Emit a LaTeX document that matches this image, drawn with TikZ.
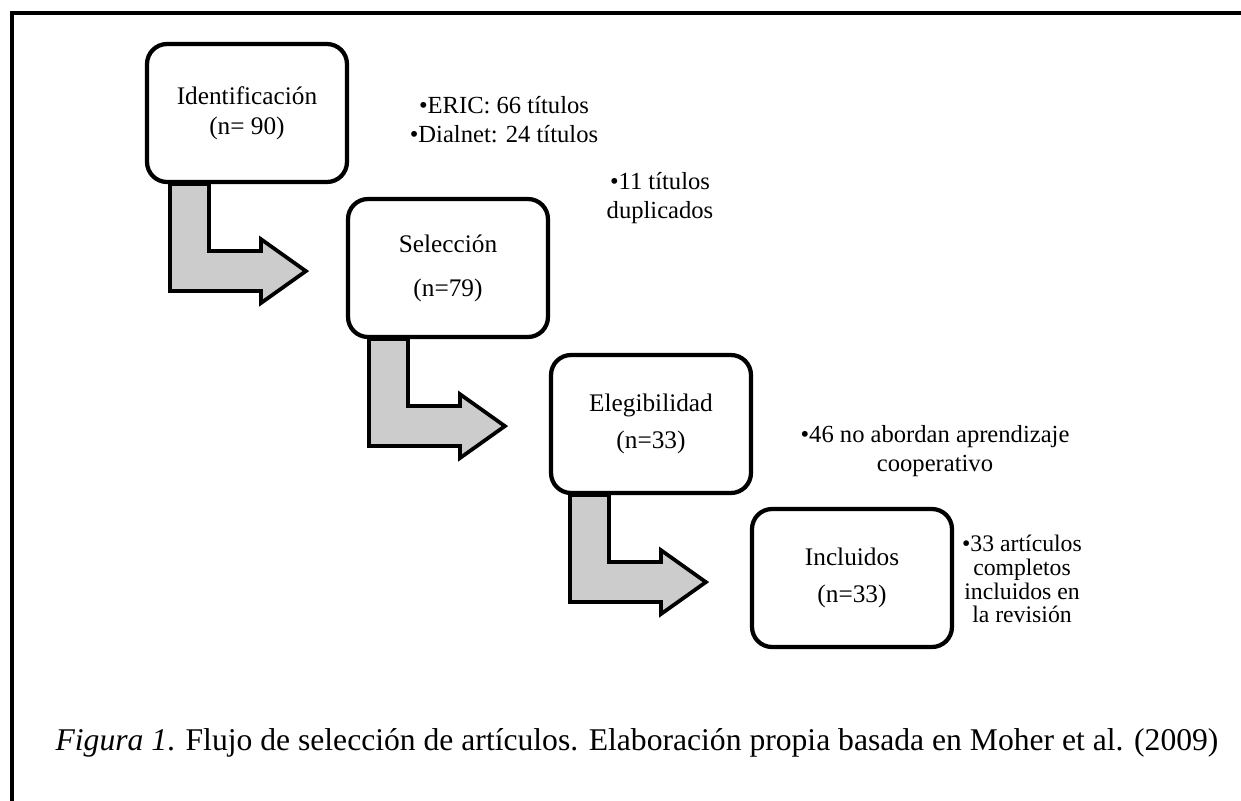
\documentclass[tikz,border=0pt]{standalone}
\usepackage{fontspec}
\setmainfont{Liberation Serif}
\usepackage{xcolor}

\begin{document}
\begin{tikzpicture}[x=0.02cm, y=-0.02cm]

    %--- Base styles
    \tikzstyle{phase box}=[draw, line width=0.085cm, rounded corners=0.4cm, fill=white, minimum width=4cm, minimum height=2.76cm, align=center, font=\fontsize{14.4}{17}\selectfont]
    \tikzstyle{bent arrow}=[draw, line width=0.075cm, fill=gray!40, line join=miter]
    \tikzstyle{side note}=[align=center, font=\fontsize{14}{16.5}\selectfont]

    \useasboundingbox (0,0) rectangle (1241,801);

    %--- Frame (top and left only)
    \draw[line width=0.08cm] (12,801) -- (12,13) -- (1241,13);

    %--- Phases of the selection
    \node[phase box] (B1) at (247,113) {Identificación\\(n= 90)};
    \node[phase box] (B2) at (448,268) {Selección\\[8pt](n=79)};
    \node[phase box] (B3) at (651,424) {Elegibilidad\\[4.5pt](n=33)};
    \node[phase box] (B4) at (852,578) {Incluidos\\[4.5pt](n=33)};

    %--- Bent arrows between phases
    \draw[bent arrow] ([xshift=0.5cm]B1.south west) -- ++(0,107) -- ++(91,0) -- ++(0,12) -- ++(45,-32) -- ++(-45,-32) -- ++(0,12) -- ++(-52,0) -- ++(0,-67) -- cycle;
    \draw[bent arrow] ([xshift=0.46cm]B2.south west) -- ++(0,107) -- ++(91,0) -- ++(0,12) -- ++(45,-32) -- ++(-45,-32) -- ++(0,12) -- ++(-52,0) -- ++(0,-67) -- cycle;
    \draw[bent arrow] ([xshift=0.42cm]B3.south west) -- ++(0,107) -- ++(91,0) -- ++(0,12) -- ++(45,-32) -- ++(-45,-32) -- ++(0,12) -- ++(-52,0) -- ++(0,-67) -- cycle;

    %--- Notes beside each phase
    \node[side note] (N1) at (504,120) {•ERIC: 66 títulos\\•Dialnet: 24 títulos};
    \node[side note] (N2) at (660,198) {•11 títulos\\duplicados};
    \node[side note] (N3) at (935,451) {•46 no abordan aprendizaje\\cooperativo};
    \node[side note, font=\fontsize{13.5}{13.6}\selectfont] (N4) at (1022,579) {•33 artículos\\completos\\incluidos en\\la revisión};

    %--- Caption
    \node[font=\fontsize{18}{21}\selectfont] (caption) at (637,743) {\textit{Figura 1}. Flujo de selección de artículos. Elaboración propia basada en Moher et al. (2009)};

\end{tikzpicture}
\end{document}
